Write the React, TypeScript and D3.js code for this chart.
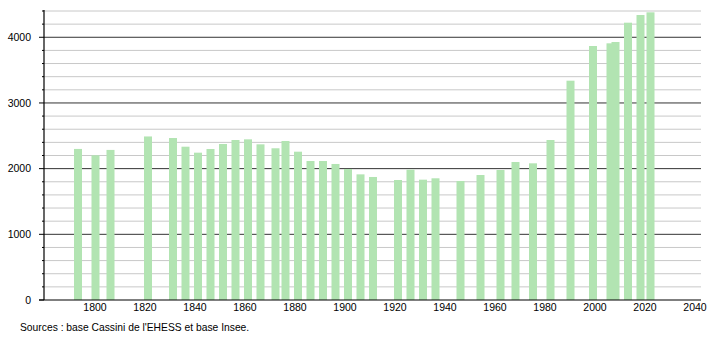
import React from "react";
import * as d3 from "d3";

const years = [1793,1800,1806,1821,1831,1836,1841,1846,1851,1856,1861,1866,1872,1876,1881,1886,1891,1896,1901,1906,1911,1921,1926,1931,1936,1946,1954,1962,1968,1975,1982,1990,1999,2006,2008,2013,2018,2022];
const population = [2300,2203,2285,2490,2466,2334,2243,2299,2375,2436,2446,2370,2310,2421,2258,2116,2116,2071,1995,1913,1873,1827,1984,1832,1853,1812,1903,1979,2101,2081,2436,3339,3867,3908,3928,4222,4339,4380];
const xTicks = [1800,1820,1840,1860,1880,1900,1920,1940,1960,1980,2000,2020,2040];
const yMajor = [0,1000,2000,3000,4000];
const yMinor = d3.range(0, 4401, 200).filter(v => v % 1000 !== 0);
const sourceText = "Sources : base Cassini de l'EHESS et base Insee.";

const W = 710, H = 340;
const FONT = "'Liberation Sans', Arial, Helvetica, sans-serif";

export default function App() {
  const x = d3.scaleLinear().domain([1780, 2042]).range([45, 700]);
  const y = d3.scaleLinear().domain([0, 4400]).range([300, 11]);
  const axisX = 44;
  const barW = 8;
  return (
    <svg width={W} height={H} style={{ position: "absolute", left: 0, top: 0, background: "#fff" }}>
      <rect x={0} y={0} width={W} height={H} fill="#fff" />
      {yMinor.map(v => (
        <g key={"mi" + v}>
          <line x1={axisX} x2={701} y1={y(v)} y2={y(v)} stroke="#c8c8c8" strokeWidth={1} />
          <line x1={axisX - 2} x2={axisX} y1={y(v)} y2={y(v)} stroke="#000" strokeWidth={1} />
        </g>
      ))}
      {yMajor.filter(v => v > 0).map(v => (
        <line key={"ma" + v} x1={axisX} x2={701} y1={y(v)} y2={y(v)} stroke="#333" strokeWidth={1} />
      ))}
      {years.map((yr, i) => (
        <rect key={yr} x={x(yr) + 0.5 - barW / 2} y={y(population[i])} width={barW}
          height={y(0) - y(population[i])} fill="#b2e4b2" />
      ))}
      <line x1={axisX} x2={axisX} y1={10} y2={300} stroke="#000" strokeWidth={1.2} />
      <line x1={39} x2={701} y1={300} y2={300} stroke="#000" strokeWidth={1.2} />
      {yMajor.map(v => (
        <g key={"yt" + v}>
          <line x1={axisX - 5} x2={axisX} y1={y(v)} y2={y(v)} stroke="#000" strokeWidth={1} />
          <text x={31} y={y(v) + 3.8} textAnchor="end" fontFamily={FONT} fontSize={10.5} fill="#000">{v}</text>
        </g>
      ))}
      {xTicks.map(t => (
        <text key={"xt" + t} x={x(t)} y={311} textAnchor="middle" fontFamily={FONT} fontSize={10.5} fill="#000">{t}</text>
      ))}
      <text x={20} y={331} fontFamily={FONT} fontSize={10.3} fill="#000">{sourceText}</text>
    </svg>
  );
}
